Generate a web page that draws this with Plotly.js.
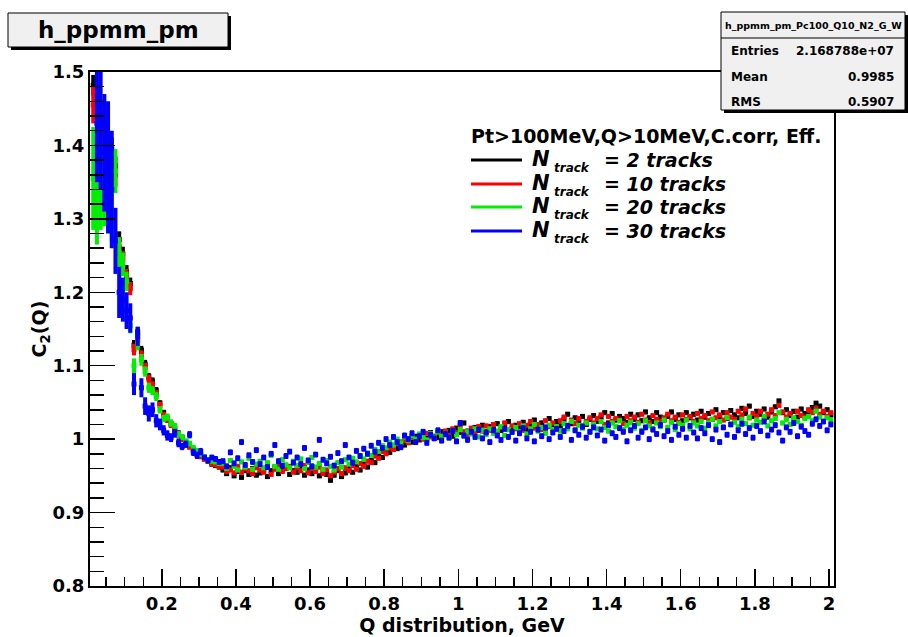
<!DOCTYPE html>
<html><head><meta charset="utf-8">
<script src="https://cdn.plot.ly/plotly-3.0.1.min.js"></script>
<style>html,body{margin:0;padding:0;background:#fff;}#chart{width:908px;height:637px;}</style>
</head><body><div id="chart"></div>
<script>
// Histogram binning (Q, GeV)
const binLow = 0.01;
const binWidth = 0.01;

const seriesLabels = ["2 tracks", "10 tracks", "20 tracks", "30 tracks"];
const seriesColors = ["#000000", "#ff0000", "#00ee00", "#0000ff"];

// C2(Q) values, one per bin
const c2_N2 = [
1.482,1.468,1.442,1.418,1.385,1.395,1.372,1.272,1.252,1.228,
1.212,1.128,1.146,1.121,1.102,1.085,1.079,1.066,1.049,1.036,
1.028,1.021,1.015,1.008,1.002,0.996,0.991,0.986,0.982,0.977,
0.973,0.970,0.966,0.964,0.962,
0.958,0.953,0.961,0.950,0.956,0.948,0.957,0.952,0.960,0.951,
0.954,0.959,0.949,0.957,0.962,0.953,0.958,0.961,0.952,0.957,
0.955,0.962,0.951,0.958,0.953,0.960,0.950,0.956,0.952,0.944,
0.951,0.957,0.949,0.954,0.960,0.955,0.963,0.958,0.966,0.962,
0.971,0.968,0.978,0.975,0.984,0.982,0.990,0.987,0.996,0.992,
1.000,0.996,1.004,0.999,1.007,1.001,1.009,1.004,1.002,1.010,
1.006,1.012,1.004,1.015,1.009,1.022,1.011,1.008,1.016,1.012,
1.019,1.010,1.017,1.013,1.021,1.012,1.018,1.024,1.014,1.019,
1.016,1.023,1.013,1.020,1.026,1.017,1.022,1.015,1.028,1.019,
1.024,1.018,1.027,1.034,1.021,1.029,1.023,1.031,1.020,1.027,
1.032,1.024,1.030,1.036,1.022,1.035,1.026,1.031,1.028,1.023,
1.034,1.027,1.033,1.025,1.037,1.029,1.024,1.036,1.030,1.026,
1.031,1.037,1.027,1.033,1.025,1.036,1.029,1.034,1.026,1.038,
1.030,1.035,1.027,1.040,1.031,1.036,1.028,1.039,1.033,1.029,
1.042,1.035,1.045,1.031,1.038,1.034,1.041,1.030,1.037,1.044,
1.052,1.036,1.040,1.032,1.038,1.030,1.041,1.035,1.033,1.043,
1.049,1.045,1.036,1.040,1.033];

const c2_N10 = [
1.455,1.452,1.425,1.405,1.372,1.366,1.360,1.262,1.245,1.222,
1.205,1.122,1.135,1.114,1.098,1.082,1.074,1.062,1.046,1.033,
1.026,1.019,1.012,1.006,1.000,0.995,0.989,0.985,0.980,0.976,
0.973,0.970,0.967,0.965,0.963,
0.962,0.956,0.958,0.954,0.963,0.955,0.960,0.957,0.953,0.961,
0.958,0.955,0.962,0.952,0.959,0.964,0.956,0.960,0.963,0.955,
0.961,0.957,0.964,0.954,0.960,0.956,0.962,0.953,0.958,0.950,
0.955,0.960,0.953,0.961,0.957,0.964,0.959,0.967,0.963,0.970,
0.968,0.977,0.974,0.983,0.980,0.988,0.986,0.994,0.991,0.998,
0.995,1.003,0.998,1.005,1.000,1.008,1.003,1.001,1.009,1.004,
1.011,1.005,1.014,1.008,1.019,1.010,1.006,1.015,1.009,1.017,
1.011,1.018,1.012,1.020,1.010,1.016,1.022,1.013,1.018,1.014,
1.021,1.012,1.019,1.024,1.015,1.020,1.013,1.025,1.017,1.022,
1.016,1.025,1.030,1.019,1.026,1.021,1.028,1.018,1.024,1.029,
1.022,1.028,1.033,1.020,1.031,1.024,1.028,1.026,1.021,1.031,
1.025,1.030,1.023,1.034,1.026,1.022,1.032,1.027,1.024,1.029,
1.034,1.025,1.030,1.023,1.033,1.027,1.031,1.024,1.035,1.028,
1.032,1.025,1.037,1.029,1.033,1.026,1.036,1.030,1.027,1.038,
1.033,1.041,1.029,1.035,1.031,1.038,1.028,1.034,1.040,1.032,
1.046,1.037,1.030,1.035,1.028,1.038,1.032,1.030,1.040,1.036,
1.042,1.034,1.038,1.031,1.036];

const c2_N20 = [
1.355,1.335,1.345,1.340,1.330,1.310,1.365,1.255,1.238,1.215,
1.155,1.100,1.130,1.108,1.092,1.070,1.066,1.058,1.040,1.028,
1.030,1.022,1.018,1.007,1.003,0.997,0.994,0.988,0.984,0.979,
0.976,0.972,0.970,0.969,0.967,
0.967,0.960,0.971,0.963,0.958,0.969,0.962,0.974,0.959,0.966,
0.970,0.961,0.968,0.978,0.963,0.959,0.972,0.965,0.961,0.970,
0.964,0.973,0.960,0.968,0.975,0.962,0.967,0.959,0.971,0.963,
0.958,0.968,0.962,0.972,0.966,0.974,0.969,0.977,0.973,0.981,
0.978,0.986,0.983,0.991,0.988,0.996,0.992,1.000,0.995,1.003,
0.998,1.005,1.000,1.007,1.002,0.999,1.008,1.003,1.010,1.004,
1.008,1.002,1.011,1.006,1.013,1.004,1.010,1.007,1.014,1.003,
1.012,1.006,1.014,1.008,1.011,1.017,1.005,1.013,1.009,1.016,
1.010,1.018,1.007,1.014,1.020,1.011,1.016,1.008,1.019,1.013,
1.017,1.011,1.021,1.014,1.024,1.012,1.019,1.015,1.022,1.010,
1.020,1.014,1.024,1.016,1.011,1.022,1.017,1.025,1.013,1.019,
1.023,1.015,1.021,1.012,1.025,1.018,1.014,1.022,1.017,1.026,
1.016,1.023,1.013,1.021,1.019,1.026,1.014,1.022,1.018,1.024,
1.015,1.022,1.027,1.018,1.024,1.016,1.029,1.020,1.023,1.017,
1.027,1.021,1.030,1.019,1.026,1.023,1.031,1.018,1.025,1.028,
1.036,1.022,1.027,1.020,1.029,1.024,1.019,1.028,1.031,1.025,
1.038,1.030,1.024,1.029,1.026];

const c2_N30 = [
null,1.430,1.430,1.390,1.370,1.340,1.270,1.200,1.190,1.175,
1.165,1.075,1.140,1.070,1.045,1.035,1.040,1.025,1.020,1.012,
1.005,1.002,1.008,0.995,0.990,0.993,1.006,0.982,0.978,0.983,
0.975,0.971,0.975,0.973,0.969,
0.970,0.963,0.982,0.967,0.974,0.996,0.965,0.978,0.969,0.985,
0.966,0.975,0.962,0.980,0.992,0.970,0.964,0.977,0.983,0.968,
0.975,0.966,0.988,0.971,0.963,0.979,0.999,0.972,0.967,0.976,
0.964,0.981,0.970,0.992,0.975,0.968,0.984,0.977,0.987,0.980,
0.991,0.983,0.995,0.988,1.000,0.992,1.003,0.996,0.989,1.005,
1.000,1.008,0.996,1.004,1.010,0.995,1.006,1.001,1.012,0.998,
1.007,1.002,1.011,0.997,1.022,1.005,0.999,1.010,1.003,1.013,
1.001,1.009,0.996,1.012,1.005,0.999,1.014,1.003,1.010,0.998,
1.008,1.015,1.001,1.010,0.997,1.013,1.004,1.016,1.000,1.009,
1.014,1.003,1.011,1.018,0.999,1.012,1.006,1.017,1.002,1.010,
1.016,1.005,1.013,0.998,1.019,1.008,1.003,1.015,1.010,0.997,
1.012,1.018,1.002,1.010,1.016,1.000,1.013,1.007,1.019,1.004,
1.011,0.999,1.017,1.006,1.014,1.002,1.018,1.009,1.001,1.015,
1.008,1.019,1.000,1.013,0.996,1.016,1.006,1.020,1.003,1.012,
1.021,1.007,1.015,1.002,1.018,1.011,1.024,1.005,1.013,1.019,
1.009,0.998,1.016,1.010,1.022,1.004,1.017,1.011,1.006,1.021,
1.027,1.018,1.024,1.012,1.020];

// statistical errors: low-Q bins, and the typical error beyond them
const err_N2_lowQ = [0.014,0.016,0.02,0.02,0.018,0.016,0.013,0.011,0.01,0.009,0.008,0.007,0.007,0.006,0.006,0.005,0.005,0.005,0.004,0.004,0.004,0.004,0.004,0.004,0.004,0.003,0.003,0.003,0.003,0.003,0.003,0.003,0.003,0.003,0.003];
const err_N10_lowQ = [0.025,0.028,0.028,0.025,0.022,0.02,0.016,0.013,0.011,0.01,0.009,0.008,0.007,0.007,0.006,0.006,0.005,0.005,0.005,0.004,0.004,0.004,0.004,0.004,0.004,0.004,0.003,0.003,0.003,0.003,0.003,0.003,0.003,0.003,0.003];
const err_N20_lowQ = [0.07,0.07,0.06,0.05,0.045,0.04,0.03,0.02,0.016,0.013,0.011,0.01,0.009,0.008,0.007,0.007,0.006,0.006,0.005,0.005,0.005,0.005,0.004,0.004,0.004,0.004,0.004,0.004,0.004,0.003,0.003,0.003,0.003,0.003,0.003];
const err_N30_lowQ = [0,0.08,0.09,0.08,0.09,0.08,0.045,0.035,0.03,0.025,0.02,0.015,0.013,0.013,0.012,0.011,0.01,0.009,0.008,0.007,0.007,0.006,0.006,0.006,0.005,0.005,0.005,0.005,0.005,0.005,0.004,0.004,0.004,0.004,0.004];
const err_rest = [0.003, 0.003, 0.003, 0.004];

// Stats box
const statsName = "h_ppmm_pm_Pc100_Q10_N2_G_W";
const statsRows = [["Entries", "2.168788e+07"], ["Mean", "0.9985"], ["RMS", "0.5907"]];
const legendHeader = "Pt>100MeV,Q>10MeV,C.corr, Eff.";
const histTitle = "h_ppmm_pm";

const allY = [c2_N2, c2_N10, c2_N20, c2_N30];
const allErrLow = [err_N2_lowQ, err_N10_lowQ, err_N20_lowQ, err_N30_lowQ];

const traces = allY.map((ys, k) => {
  const xs = ys.map((_, i) => binLow + binWidth * (i + 0.5));
  const errs = ys.map((_, i) => i < allErrLow[k].length ? allErrLow[k][i] : err_rest[k]);
  return {
    type: 'scatter', mode: 'markers', x: xs, y: ys, name: seriesLabels[k],
    marker: {symbol: 'square', size: 5, color: seriesColors[k]},
    error_y: {type: 'data', array: errs, visible: true, color: seriesColors[k], thickness: 4, width: 0}
  };
});

// pixel -> paper helpers (plot area 90..834 x 72..586)
const L = 90, R = 834, T = 72, B = 586;
const fx = x => (x - L) / (R - L);
const fy = y => (B - y) / (B - T);

const shapes = [];
const annotations = [];
const F = 'DejaVu Sans';

// title box
shapes.push({type:'rect', xref:'paper', yref:'paper', x0:fx(11), x1:fx(231), y0:fy(50), y1:fy(16), fillcolor:'#000', line:{width:0}, layer:'above'});
shapes.push({type:'rect', xref:'paper', yref:'paper', x0:fx(8), x1:fx(228), y0:fy(47), y1:fy(13), fillcolor:'#f0f0f0', line:{color:'#000', width:1}, layer:'above'});
annotations.push({xref:'paper', yref:'paper', x:fx(118), y:fy(30), text:histTitle, showarrow:false, xanchor:'center', yanchor:'middle', font:{family:F, size:23, weight:'bold', color:'#000'}});

// stats box
shapes.push({type:'rect', xref:'paper', yref:'paper', x0:fx(724), x1:fx(908), y0:fy(113), y1:fy(15), fillcolor:'#000', line:{width:0}, layer:'above'});
shapes.push({type:'rect', xref:'paper', yref:'paper', x0:fx(721), x1:fx(905), y0:fy(110), y1:fy(12), fillcolor:'#f0f0f0', line:{color:'#000', width:1}, layer:'above'});
shapes.push({type:'line', xref:'paper', yref:'paper', x0:fx(721), x1:fx(905), y0:fy(38), y1:fy(38), line:{color:'#000', width:1}, layer:'above'});
annotations.push({xref:'paper', yref:'paper', x:fx(813), y:fy(25), text:statsName, showarrow:false, xanchor:'center', yanchor:'middle', font:{family:F, size:9.5, weight:'bold', color:'#000'}});
const rowY = [51, 77, 102];
statsRows.forEach((r, i) => {
  annotations.push({xref:'paper', yref:'paper', x:fx(729), y:fy(rowY[i]), text:r[0], showarrow:false, xanchor:'left', yanchor:'middle', font:{family:F, size:12, weight:'bold', color:'#000'}});
  annotations.push({xref:'paper', yref:'paper', x:fx(896), y:fy(rowY[i]), text:r[1], showarrow:false, xanchor:'right', yanchor:'middle', font:{family:F, size:12, weight:'bold', color:'#000'}});
});

// legend
annotations.push({xref:'paper', yref:'paper', x:fx(469), y:fy(136), text:legendHeader, showarrow:false, xanchor:'left', yanchor:'middle', font:{family:F, size:19, weight:'bold', color:'#000'}});
const legY = [160, 184, 207, 231];
seriesLabels.forEach((lab, k) => {
  shapes.push({type:'line', xref:'paper', yref:'paper', x0:fx(471), x1:fx(522), y0:fy(legY[k]), y1:fy(legY[k]), line:{color:seriesColors[k], width:3}, layer:'above'});
  annotations.push({xref:'paper', yref:'paper', x:fx(530), y:fy(legY[k]-1), text:'<i>N</i>', showarrow:false, xanchor:'left', yanchor:'middle', font:{family:F, size:21, weight:'bold', color:'#000'}});
  annotations.push({xref:'paper', yref:'paper', x:fx(552), y:fy(legY[k]+8), text:'<i>track</i>', showarrow:false, xanchor:'left', yanchor:'middle', font:{family:F, size:12, weight:'bold', color:'#000'}});
  annotations.push({xref:'paper', yref:'paper', x:fx(602), y:fy(legY[k]), text:'<i>= ' + lab + '</i>', showarrow:false, xanchor:'left', yanchor:'middle', font:{family:F, size:19, weight:'bold', color:'#000'}});
});

const layout = {
  width: 908, height: 637,
  margin: {l: 90, r: 74, t: 72, b: 51, pad: 0},
  paper_bgcolor: '#ffffff', plot_bgcolor: '#ffffff',
  showlegend: false,
  font: {family: F, color: '#000'},
  xaxis: {
    range: [0.0063, 2.0135], showgrid: false, zeroline: false,
    showline: true, linecolor: '#000', linewidth: 2, mirror: true,
    ticks: 'inside', ticklen: 17, tickwidth: 1.5, tickcolor: '#000', dtick: 0.2, tick0: 0,
    minor: {ticks: 'inside', ticklen: 9, dtick: 0.05, tick0: 0, tickwidth: 1.5, tickcolor: '#000', showgrid: false},
    tickfont: {family: F, size: 18, weight: 'bold', color: '#000'},
    title: {text: 'Q distribution, GeV', font: {family: F, size: 19, weight: 'bold', color: '#000'}, standoff: 4}
  },
  yaxis: {
    range: [0.8, 1.5], showgrid: false, zeroline: false,
    showline: true, linecolor: '#000', linewidth: 2, mirror: true,
    ticks: 'inside', ticklen: 25, tickwidth: 1.5, tickcolor: '#000', dtick: 0.1, tick0: 0,
    minor: {ticks: 'inside', ticklen: 14, dtick: 0.02, tick0: 0, tickwidth: 1.5, tickcolor: '#000', showgrid: false},
    tickfont: {family: F, size: 18, weight: 'bold', color: '#000'},
    title: {text: 'C<sub>2</sub>(Q)', font: {family: F, size: 19, weight: 'bold', color: '#000'}, standoff: 1}
  },
  shapes: shapes,
  annotations: annotations
};

Plotly.newPlot('chart', traces, layout, {displayModeBar: false, staticPlot: true});
</script>
</body></html>
